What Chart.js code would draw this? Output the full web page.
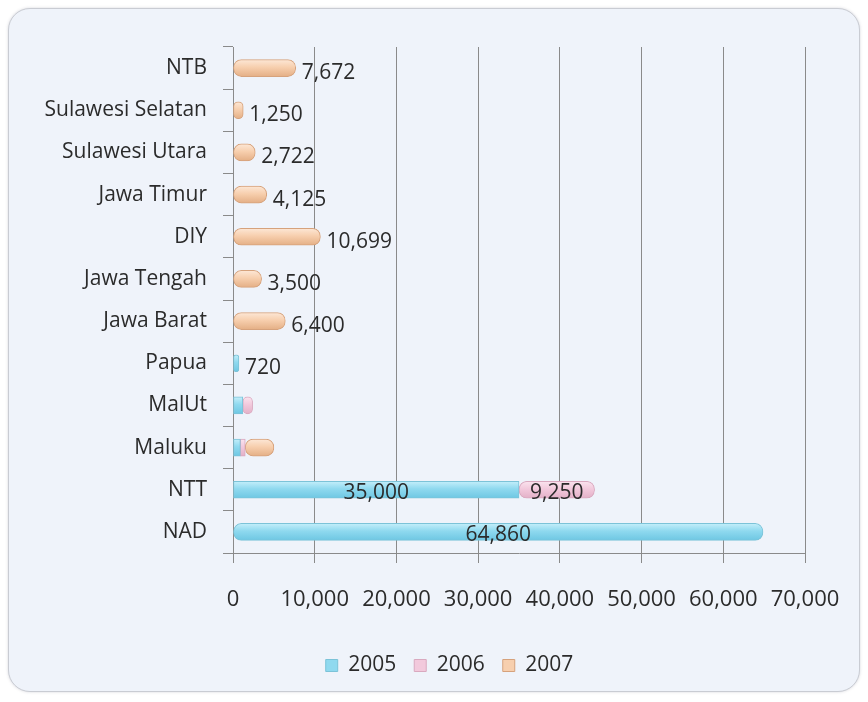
<!DOCTYPE html>
<html lang="en">
<head>
  <meta charset="UTF-8">
  <title>Jumlah per Provinsi</title>
  <script src="https://cdn.jsdelivr.net/npm/chart.js"></script>
  <style>
    html, body { margin: 0; padding: 0; background: #ffffff; }
    .card {
      position: absolute; left: 8px; top: 8px; width: 850px; height: 682px;
      border: 1px solid #c9ccd3; border-radius: 22px;
      background: #eff3fa;
      box-shadow: 0 0 3px rgba(120,120,140,0.3);
    }
    .wrap { position: absolute; left: 0; top: 0; width: 868px; height: 702px; }
  </style>
</head>
<body>
  <div class="card"></div>
  <div class="wrap"><canvas id="chart" width="868" height="702"></canvas></div>

  <script>
const provinces = ["NTB", "Sulawesi Selatan", "Sulawesi Utara", "Jawa Timur", "DIY", "Jawa Tengah",
                   "Jawa Barat", "Papua", "MalUt", "Maluku", "NTT", "NAD"];
const years = ["2005", "2006", "2007"];

const values2005 = [0, 0, 0, 0, 0, 0, 0, 720, 1200, 900, 35000, 64860];
const values2006 = [0, 0, 0, 0, 0, 0, 0, 0, 1200, 600, 9250, 0];
const values2007 = [7672, 1250, 2722, 4125, 10699, 3500, 6400, 0, 0, 3500, 0, 0];

// which values get a printed label (null = none)
const labels2005 = [null, null, null, null, null, null, null, "720", null, null, "35,000", "64,860"];
const labels2006 = [null, null, null, null, null, null, null, null, null, null, "9,250", null];
const labels2007 = ["7,672", "1,250", "2,722", "4,125", "10,699", "3,500", "6,400", null, null, null, null, null];

const FONT = "'Open Sans', Lato, sans-serif";

const colors = [
  ["#c8f0fb", "#8fd9ef", "#6cc6e2"],
  ["#fbe6f0", "#f2c9dc", "#e2afc6"],
  ["#fde9d9", "#f7cfae", "#e3ad83"]
];

function barFill(idx) {
  return function (ctx) {
    const chart = ctx.chart;
    const y = chart.scales && chart.scales.y;
    if (!y || ctx.dataIndex === undefined || !chart.chartArea) return colors[idx][1];
    const cy = y.getPixelForValue(ctx.dataIndex);
    const g = chart.ctx.createLinearGradient(0, cy - 9, 0, cy + 9);
    g.addColorStop(0, colors[idx][0]);
    g.addColorStop(0.45, colors[idx][1]);
    g.addColorStop(1, colors[idx][2]);
    return g;
  };
}

const valueLabels = {
  id: "valueLabels",
  afterDatasetsDraw(chart) {
    const ctx = chart.ctx;
    const sets = [labels2005, labels2006, labels2007];
    ctx.save();
    ctx.font = "21px " + FONT;
    ctx.fillStyle = "#2b2b2b";
    ctx.textBaseline = "middle";
    sets.forEach((labs, d) => {
      const meta = chart.getDatasetMeta(d);
      meta.data.forEach((el, i) => {
        if (!labs[i]) return;
        const w = Math.abs(el.x - el.base);
        if (d < 2 && w > 60) {
          ctx.textAlign = "center";
          ctx.fillText(labs[i], (el.x + el.base) / 2, el.y + 3);
        } else {
          ctx.textAlign = "left";
          ctx.fillText(labs[i], el.x + 6, el.y + 5);
        }
      });
    });
    ctx.restore();
  }
};

// nudge the legend to the right, as in the original
const legendShift = {
  id: "legendShift",
  afterLayout(chart) {
    if (chart.legend) {
      chart.legend.left += 37;
      chart.legend.right += 37;
    }
  }
};

const commonBar = {
  borderWidth: 1,
  borderSkipped: false,
  borderRadius: 8,
  barThickness: 17
};

new Chart(document.getElementById("chart"), {
  type: "bar",
  data: {
    labels: provinces,
    datasets: [
      Object.assign({ label: years[0], data: values2005, backgroundColor: barFill(0), borderColor: "#7cc3d8" }, commonBar),
      Object.assign({ label: years[1], data: values2006, backgroundColor: barFill(1), borderColor: "#d9a9bf" }, commonBar),
      Object.assign({ label: years[2], data: values2007, backgroundColor: barFill(2), borderColor: "#d6a27c" }, commonBar)
    ]
  },
  options: {
    indexAxis: "y",
    responsive: false,
    animation: false,
    layout: { padding: { top: 47, left: 20, right: 63, bottom: 16 } },
    scales: {
      x: {
        stacked: true,
        min: 0, max: 70000,
        ticks: {
          stepSize: 10000,
          padding: 24,
          color: "#2b2b2b",
          font: { size: 22, family: FONT },
          callback: v => v.toLocaleString("en-US")
        },
        grid: { color: "#8a8a8a", lineWidth: 1, tickLength: 10 },
        border: { color: "#8a8a8a" },
        afterFit: s => { s.height = 84; }
      },
      y: {
        stacked: true,
        ticks: {
          padding: 16,
          color: "#2b2b2b",
          font: { size: 21, family: FONT }
        },
        grid: { drawOnChartArea: false, offset: true, color: "#8a8a8a", tickLength: 10 },
        border: { color: "#8a8a8a" },
        afterFit: s => { s.width = 213; }
      }
    },
    plugins: {
      legend: {
        position: "bottom",
        labels: {
          boxWidth: 12, boxHeight: 12, padding: 18,
          color: "#2b2b2b",
          font: { size: 21, family: FONT },
          generateLabels: chart => chart.data.datasets.map((ds, i) => ({
            text: ds.label, fillStyle: colors[i][1], strokeStyle: ds.borderColor,
            lineWidth: 1, datasetIndex: i, hidden: false, fontColor: "#2b2b2b"
          }))
        }
      },
      tooltip: { enabled: false }
    }
  },
  plugins: [valueLabels, legendShift]
});
  </script>
</body>
</html>
